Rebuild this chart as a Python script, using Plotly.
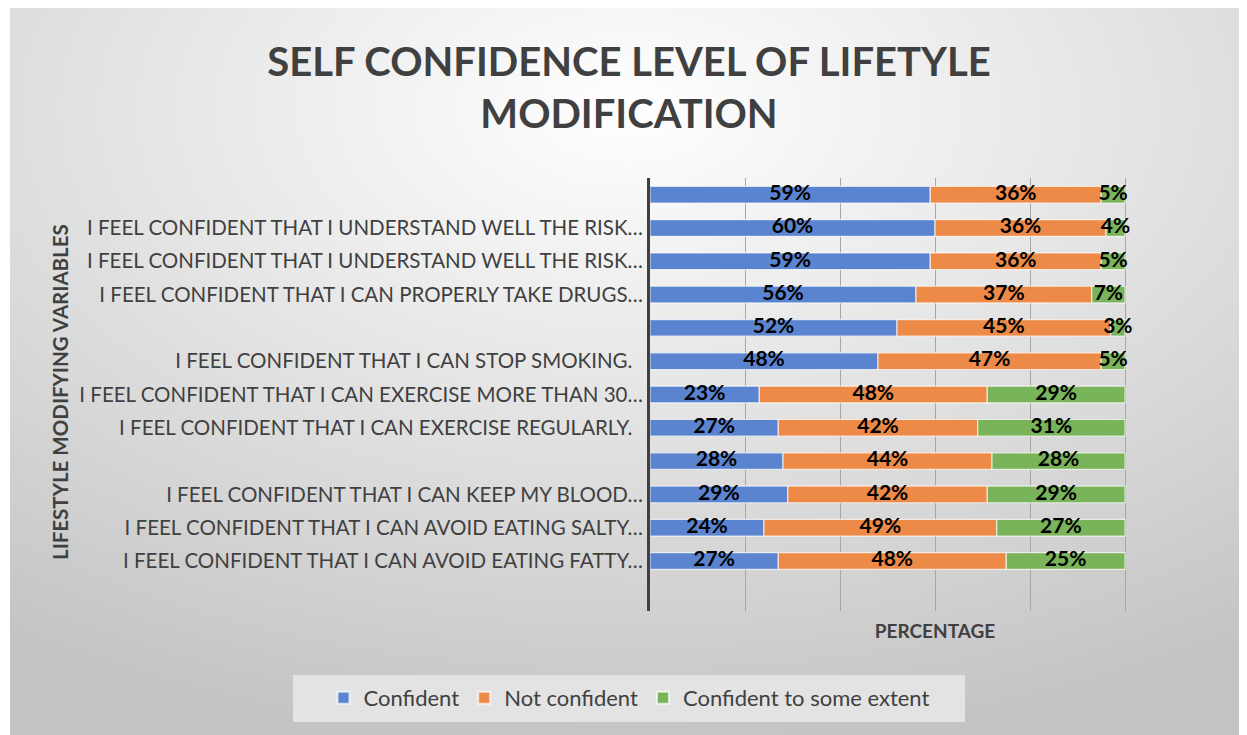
import base64
import plotly.graph_objects as go

categories = [
    "",
    "I FEEL CONFIDENT THAT I UNDERSTAND WELL THE RISK…",
    "I FEEL CONFIDENT THAT I UNDERSTAND WELL THE RISK…",
    "I FEEL CONFIDENT THAT I CAN PROPERLY TAKE DRUGS…",
    "",
    "I FEEL CONFIDENT THAT I CAN STOP SMOKING.  ",
    "I FEEL CONFIDENT THAT I CAN EXERCISE MORE THAN 30…",
    "I FEEL CONFIDENT THAT I CAN EXERCISE REGULARLY.  ",
    "",
    "I FEEL CONFIDENT THAT I CAN KEEP MY BLOOD…",
    "I FEEL CONFIDENT THAT I CAN AVOID EATING SALTY…",
    "I FEEL CONFIDENT THAT I CAN AVOID EATING FATTY…",
]
confident = [59, 60, 59, 56, 52, 48, 23, 27, 28, 29, 24, 27]
not_confident = [36, 36, 36, 37, 45, 47, 48, 42, 44, 42, 49, 48]
some_extent = [5, 4, 5, 7, 3, 5, 29, 31, 28, 29, 27, 25]

series = [
    ("Confident", confident, "#5A84CF"),
    ("Not confident", not_confident, "#EE8A48"),
    ("Confident to some extent", some_extent, "#79B35A"),
]

FONT = "Lato, 'Open Sans', sans-serif"
pos = list(range(len(categories)))

# figure geometry (the page body adds an 8px offset)
W, H = 1239, 727
L, R, T, B = 642, 27, 170, 124
PW, PH = W - L - R, H - T - B


def px_x(x):
    return (x - L) / PW


def px_y(y):
    return (T + PH - y) / PH


fig = go.Figure()
base = [0] * len(categories)
for name, vals, color in series:
    fig.add_trace(go.Bar(
        y=pos, x=vals, base=base, orientation="h", name=name,
        marker=dict(color=color, line=dict(color="rgba(255,255,255,0.7)", width=1.2)),
        width=0.5, hoverinfo="x+name",
    ))
    centers = [b + v / 2 for b, v in zip(base, vals)]
    fig.add_trace(go.Scatter(
        y=pos, x=centers, mode="text", showlegend=False,
        text=[f"<b>{v}%</b>" for v in vals],
        textfont=dict(family=FONT, size=21, color="#000000"),
        hoverinfo="skip",
    ))
    base = [b + v for b, v in zip(base, vals)]

svg = (
    "<svg xmlns='http://www.w3.org/2000/svg' width='1237' height='727' preserveAspectRatio='none'>"
    "<defs><radialGradient id='g' cx='50%' cy='14%' r='88%'>"
    "<stop offset='0' stop-color='#ffffff'/>"
    "<stop offset='0.4' stop-color='#e8e8e8'/>"
    "<stop offset='1' stop-color='#c4c4c4'/>"
    "</radialGradient></defs>"
    "<rect x='0' y='0' width='1237' height='727' fill='url(#g)'/></svg>"
)
src = "data:image/svg+xml;base64," + base64.b64encode(svg.encode()).decode()

fig.update_layout(
    width=W, height=H,
    margin=dict(l=L, r=R, t=T, b=B),
    paper_bgcolor="white", plot_bgcolor="rgba(0,0,0,0)",
    barmode="overlay",
    font=dict(family=FONT, color="#404040"),
    title=dict(
        text="<b>SELF CONFIDENCE LEVEL OF LIFETYLE<br>MODIFICATION</b>",
        x=621 / W, xanchor="center", yref="container", y=1 - 67.5 / H, yanchor="middle",
        font=dict(family=FONT, size=40, color="#404040"),
    ),
    images=[dict(
        source=src, xref="paper", yref="paper",
        x=px_x(2), y=px_y(0),
        sizex=(W - 2) / PW, sizey=H / PH,
        sizing="stretch", layer="below", xanchor="left", yanchor="top",
    )],
    shapes=[dict(
        type="rect", xref="paper", yref="paper", layer="below",
        x0=px_x(285), x1=px_x(957), y0=px_y(667), y1=px_y(714),
        fillcolor="#e3e3e3", line=dict(width=0),
    )],
    legend=dict(
        orientation="h", x=px_x(621), xanchor="center",
        y=px_y(690), yanchor="middle",
        bgcolor="rgba(0,0,0,0)",
        font=dict(family=FONT, size=22, color="#404040"),
        itemsizing="constant", traceorder="normal",
    ),
    showlegend=True,
    annotations=[dict(
        text="<b>LIFESTYLE MODIFYING VARIABLES</b>", textangle=-90,
        xref="paper", yref="paper", x=px_x(52), y=px_y(384),
        xanchor="center", yanchor="middle", showarrow=False,
        font=dict(family=FONT, size=20.5, color="#404040"),
    )],
)
fig.update_xaxes(
    range=[0, 120], dtick=20, showticklabels=False, ticks="",
    showgrid=True, gridcolor="#a6a6a6", gridwidth=1, zeroline=False,
    title=dict(text="<b>PERCENTAGE</b>", font=dict(family=FONT, size=19, color="#404040"), standoff=13),
    fixedrange=True,
)
fig.update_yaxes(
    range=[12.5, -0.5], tickmode="array", tickvals=pos, ticktext=categories,
    tickfont=dict(family=FONT, size=20.5, color="#404040"), ticks="",
    showline=True, linecolor="#404040", linewidth=3, showgrid=False, zeroline=False,
    ticklabelstandoff=0,
    automargin=False,
)

fig.write_html("out.html")
